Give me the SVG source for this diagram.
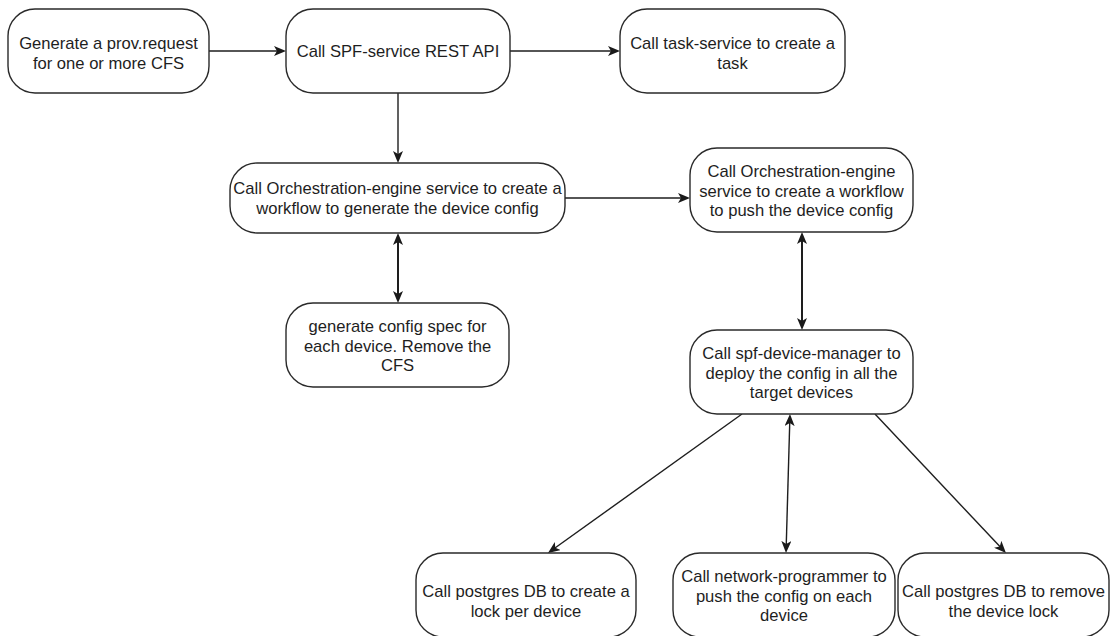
<svg xmlns="http://www.w3.org/2000/svg" width="1110" height="636" viewBox="0 0 1110 636">
  <defs>
    <marker id="arr" viewBox="0 0 12 10" refX="9" refY="5" markerWidth="12" markerHeight="10" markerUnits="userSpaceOnUse" orient="auto-start-reverse">
      <path d="M0,0 L12,5 L0,10 L3,5 Z" fill="#1a1a1a"/>
    </marker>
  </defs>
  <style>
    .box { fill: #ffffff; stroke: #2a2a2a; stroke-width: 1.4; }
    .t { font-family: "Liberation Sans", Arial, Helvetica, sans-serif; font-size: 16.6px; fill: #1e1e1e; text-anchor: middle; }
    .c { fill: none; stroke: #1e1e1e; stroke-width: 1.4; }
    .cb { fill: none; stroke: #1e1e1e; stroke-width: 2; }
  </style>
  <rect width="1110" height="636" fill="#ffffff"/>

  <g id="connectors">
    <line class="c" x1="209" y1="51" x2="283" y2="51" marker-end="url(#arr)"/>
    <line class="c" x1="510" y1="51" x2="617" y2="51" marker-end="url(#arr)"/>
    <line class="c" x1="398" y1="93" x2="398" y2="160" marker-end="url(#arr)"/>
    <line class="cb" x1="398" y1="236" x2="398" y2="300" marker-start="url(#arr)" marker-end="url(#arr)"/>
    <line class="c" x1="565" y1="198" x2="687" y2="198" marker-end="url(#arr)"/>
    <line class="cb" x1="802" y1="235" x2="802" y2="327" marker-start="url(#arr)" marker-end="url(#arr)"/>
    <line class="c" x1="742" y1="414" x2="550.4" y2="551.3" marker-end="url(#arr)"/>
    <line class="c" x1="789.9" y1="417" x2="786.1" y2="550" marker-start="url(#arr)" marker-end="url(#arr)"/>
    <line class="c" x1="875" y1="414" x2="1003.9" y2="550.8" marker-end="url(#arr)"/>
  </g>

  <g id="n1">
    <rect class="box" x="8" y="9" width="201" height="84" rx="27" ry="27"/>
    <text class="t" x="108.5" y="49">Generate a prov.request</text>
    <text class="t" x="108.5" y="69">for one or more CFS</text>
  </g>
  <g id="n2">
    <rect class="box" x="286" y="9" width="224" height="84" rx="27" ry="27"/>
    <text class="t" x="398" y="57">Call SPF-service REST API</text>
  </g>
  <g id="n3">
    <rect class="box" x="620" y="9" width="225" height="84" rx="27" ry="27"/>
    <text class="t" x="732.5" y="49">Call task-service to create a</text>
    <text class="t" x="732.5" y="69">task</text>
  </g>
  <g id="n4">
    <rect class="box" x="230" y="163" width="335" height="70" rx="27" ry="27"/>
    <text class="t" x="397.5" y="194">Call Orchestration-engine service to create a</text>
    <text class="t" x="397.5" y="213.5">workflow to generate the device config</text>
  </g>
  <g id="n5">
    <rect class="box" x="690" y="148" width="223" height="84" rx="27" ry="27"/>
    <text class="t" x="801.5" y="177">Call Orchestration-engine</text>
    <text class="t" x="801.5" y="196.5">service to create a workflow</text>
    <text class="t" x="801.5" y="216">to push the device config</text>
  </g>
  <g id="n6">
    <rect class="box" x="286" y="303" width="223" height="84" rx="27" ry="27"/>
    <text class="t" x="397.5" y="332">generate config spec for</text>
    <text class="t" x="397.5" y="351.5">each device. Remove the</text>
    <text class="t" x="397.5" y="371">CFS</text>
  </g>
  <g id="n7">
    <rect class="box" x="690" y="330" width="223" height="84" rx="27" ry="27"/>
    <text class="t" x="801.5" y="359">Call spf-device-manager to</text>
    <text class="t" x="801.5" y="378.5">deploy the config in all the</text>
    <text class="t" x="801.5" y="398">target devices</text>
  </g>
  <g id="n8">
    <rect class="box" x="416" y="553" width="220" height="84" rx="27" ry="27"/>
    <text class="t" x="526" y="597">Call postgres DB to create a</text>
    <text class="t" x="526" y="617">lock per device</text>
  </g>
  <g id="n9">
    <rect class="box" x="673" y="553" width="222" height="84" rx="27" ry="27"/>
    <text class="t" x="784" y="582">Call network-programmer to</text>
    <text class="t" x="784" y="601.5">push the config on each</text>
    <text class="t" x="784" y="621">device</text>
  </g>
  <g id="n10">
    <rect class="box" x="898" y="553" width="211" height="84" rx="27" ry="27"/>
    <text class="t" x="1003.5" y="597">Call postgres DB to remove</text>
    <text class="t" x="1003.5" y="617">the device lock</text>
  </g>
</svg>
